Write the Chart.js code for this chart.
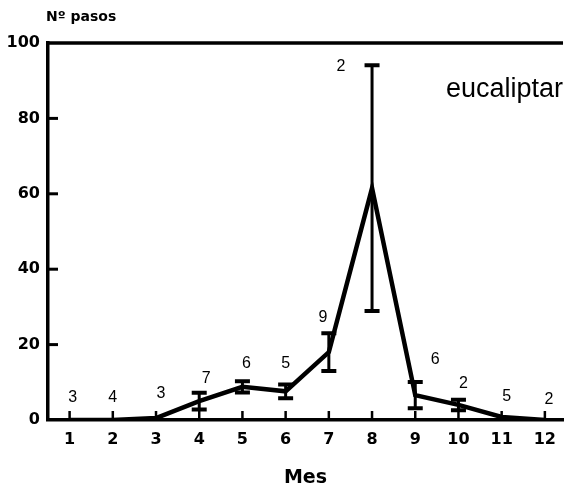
<!DOCTYPE html>
<html>
<head>
<meta charset="utf-8">
<script src="https://cdn.jsdelivr.net/npm/chart.js@4.4.0/dist/chart.umd.min.js"></script>
<style>
  html, body { margin: 0; padding: 0; background: #fff; }
  #wrap { width: 566px; height: 491px; position: relative; }
</style>
</head>
<body>
<div id="wrap"><canvas id="pasosChart"></canvas></div>
<script>
// pasos por mes - eucaliptar
const months = [1, 2, 3, 4, 5, 6, 7, 8, 9, 10, 11, 12];
const meanPasos = [0, 0, 0.5, 5.0, 8.8, 7.6, 18.0, 61.5, 6.6, 4.0, 0.8, 0];
const errPasos = [0, 0, 0, 2.2, 1.5, 1.8, 5.0, 32.6, 3.5, 1.4, 0, 0];
const nCounts = ['3', '4', '3', '7', '6', '5', '9', '2', '6', '2', '5', '2'];
const yTicks = [0, 20, 40, 60, 80, 100];

// pixel nudges for the n labels, relative to the top of each error bar
const nOffsets = [[3, -22], [0, -22], [5, -25], [7, -14], [4, -18], [0, -21],
                  [-6, -16], [-31, 1], [20, -22], [5, -16], [5, -20], [4, -20]];

const boldFont = '"DejaVu Sans", sans-serif';

const extras = {
    id: 'extras',
    afterDatasetsDraw(chart) {
        const {ctx, chartArea: area, scales: {x, y}} = chart;
        ctx.save();
        ctx.strokeStyle = '#000';
        ctx.fillStyle = '#000';
        ctx.lineCap = 'butt';

        // top frame line
        ctx.lineWidth = 3.5;
        ctx.beginPath();
        ctx.moveTo(area.left - 2, area.top);
        ctx.lineTo(area.right, area.top);
        ctx.stroke();

        // inward tick marks
        ctx.lineWidth = 2.5;
        months.forEach(m => {
            const px = x.getPixelForValue(m);
            ctx.beginPath();
            ctx.moveTo(px, area.bottom);
            ctx.lineTo(px, area.bottom - 9);
            ctx.stroke();
        });
        ctx.lineWidth = 3;
        yTicks.slice(1, -1).forEach(v => {
            const py = y.getPixelForValue(v);
            ctx.beginPath();
            ctx.moveTo(area.left, py);
            ctx.lineTo(area.left + 10, py);
            ctx.stroke();
        });

        // error bars
        months.forEach((m, i) => {
            const e = errPasos[i];
            if (!e) return;
            const px = x.getPixelForValue(m);
            const top = y.getPixelForValue(meanPasos[i] + e);
            const bot = y.getPixelForValue(meanPasos[i] - e);
            ctx.lineWidth = 3;
            ctx.beginPath();
            ctx.moveTo(px, top);
            ctx.lineTo(px, bot);
            ctx.stroke();
            ctx.lineWidth = 4;
            ctx.beginPath();
            ctx.moveTo(px - 7.5, top);
            ctx.lineTo(px + 7.5, top);
            ctx.moveTo(px - 7.5, bot);
            ctx.lineTo(px + 7.5, bot);
            ctx.stroke();
        });

        // sample sizes
        ctx.font = '16px "Liberation Sans", Arial, sans-serif';
        ctx.textAlign = 'center';
        ctx.textBaseline = 'middle';
        months.forEach((m, i) => {
            const px = x.getPixelForValue(m);
            const py = y.getPixelForValue(meanPasos[i] + errPasos[i]);
            ctx.fillText(nCounts[i], px + nOffsets[i][0], py + nOffsets[i][1]);
        });

        // axis caption and site name
        ctx.font = 'bold 14px ' + boldFont;
        ctx.textAlign = 'left';
        ctx.fillText('Nº pasos', 46, 17);
        ctx.font = '27px "Liberation Sans", Arial, sans-serif';
        ctx.textAlign = 'right';
        ctx.fillText('eucaliptar', 563, 90);
        ctx.restore();
    }
};

const ctx = document.getElementById('pasosChart').getContext('2d');

const pasosChart = new Chart(ctx, {
    type: 'line',
    data: {
        datasets: [{
            label: 'Nº pasos',
            data: months.map((m, i) => ({x: m, y: meanPasos[i]})),
            borderColor: '#000',
            borderWidth: 4.5,
            borderJoinStyle: 'miter',
            pointRadius: 0,
            tension: 0,
            fill: false
        }]
    },
    options: {
        responsive: true,
        maintainAspectRatio: false,
        animation: false,
        layout: {
            padding: {top: 43, left: 0, right: 0, bottom: 0}
        },
        plugins: {
            legend: {display: false},
            tooltip: {enabled: false}
        },
        scales: {
            x: {
                type: 'linear',
                min: 0.5,
                max: 12.42,
                afterBuildTicks: s => { s.ticks = months.map(v => ({value: v})); },
                afterFit: s => { s.height = 71; },
                grid: {display: false, drawTicks: false},
                border: {display: true, color: '#000', width: 3.5},
                ticks: {
                    color: '#000',
                    padding: 10,
                    maxRotation: 0,
                    autoSkip: false,
                    font: {family: boldFont, weight: 'bold', size: 16}
                },
                title: {
                    display: true,
                    text: 'Mes',
                    color: '#000',
                    padding: {top: 0, bottom: 2},
                    font: {family: boldFont, weight: 'bold', size: 19}
                }
            },
            y: {
                min: 0,
                max: 100,
                afterBuildTicks: s => { s.ticks = yTicks.map(v => ({value: v})); },
                afterFit: s => { s.width = 48; },
                grid: {display: false, drawTicks: false},
                border: {display: true, color: '#000', width: 3.5},
                ticks: {
                    color: '#000',
                    padding: 8,
                    font: {family: boldFont, weight: 'bold', size: 16}
                }
            }
        }
    },
    plugins: [extras]
});
</script>
</body>
</html>
